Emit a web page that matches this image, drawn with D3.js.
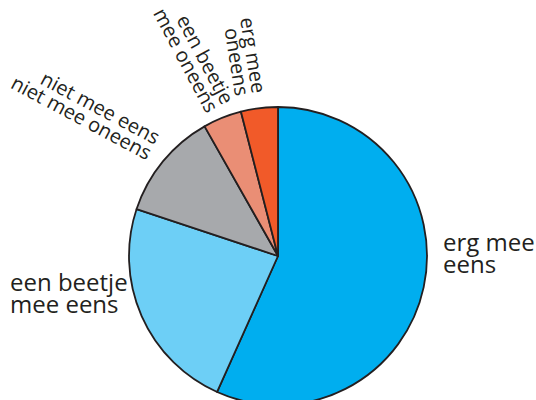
<!DOCTYPE html>
<html><head><meta charset="utf-8">
<script src="https://cdn.jsdelivr.net/npm/d3@7"></script>
<style>html,body{margin:0;padding:0;background:#fff;}svg{display:block;}</style>
</head><body>
<script>
const categories = ["erg mee eens","een beetje mee eens","niet mee eens niet mee oneens","een beetje mee oneens","erg mee oneens"];
const values = [56.7, 23.4, 11.7, 4.2, 4.0];
const colors = ["#00AEEF","#6DCFF6","#A7A9AC","#EA8E75","#F15A29"];
const labelLines = [["erg mee","eens"],["een beetje","mee eens"],["niet mee eens","niet mee oneens"],["een beetje","mee oneens"],["erg mee","oneens"]];

const W=536,H=400, cx=278, cy=256, R=149;
const svg=d3.select("body").append("svg").attr("width",W).attr("height",H);
const g=svg.append("g").attr("transform",`translate(${cx},${cy})`);
const pie=d3.pie().sort(null).value(d=>d).startAngle(0).endAngle(2*Math.PI);
const arc=d3.arc().innerRadius(0).outerRadius(R);
const arcs=pie(values);
g.selectAll("path").data(arcs).join("path")
  .attr("d",arc).attr("fill",(d,i)=>colors[i])
  .attr("stroke","#231F20").attr("stroke-width",1.8).attr("stroke-linejoin","round");

// label placement (anchor, rotation, alignment, size)
const labelPos=[
  {x:443,y:251,rot:0,anchor:"start",fs:24,lh:22},
  {x:10,y:290.5,rot:0,anchor:"start",fs:24,lh:22},
  {x:155,y:145,rot:28,anchor:"end",fs:20,lh:17.5},
  {x:222,y:106,rot:62,anchor:"end",fs:20,lh:17.5},
  {x:252,y:94,rot:81,anchor:"end",fs:20,lh:17}
];
labelLines.forEach((lines,i)=>{
  const p=labelPos[i];
  const t=svg.append("text")
    .attr("transform",`translate(${p.x},${p.y}) rotate(${p.rot})`)
    .attr("text-anchor",p.anchor)
    .attr("font-family","'Open Sans', sans-serif")
    .attr("font-size",p.fs).attr("fill","#231F20");
  lines.forEach((l,j)=>t.append("tspan").attr("x",0).attr("y",j*p.lh).text(l));
});
</script>
</body></html>
